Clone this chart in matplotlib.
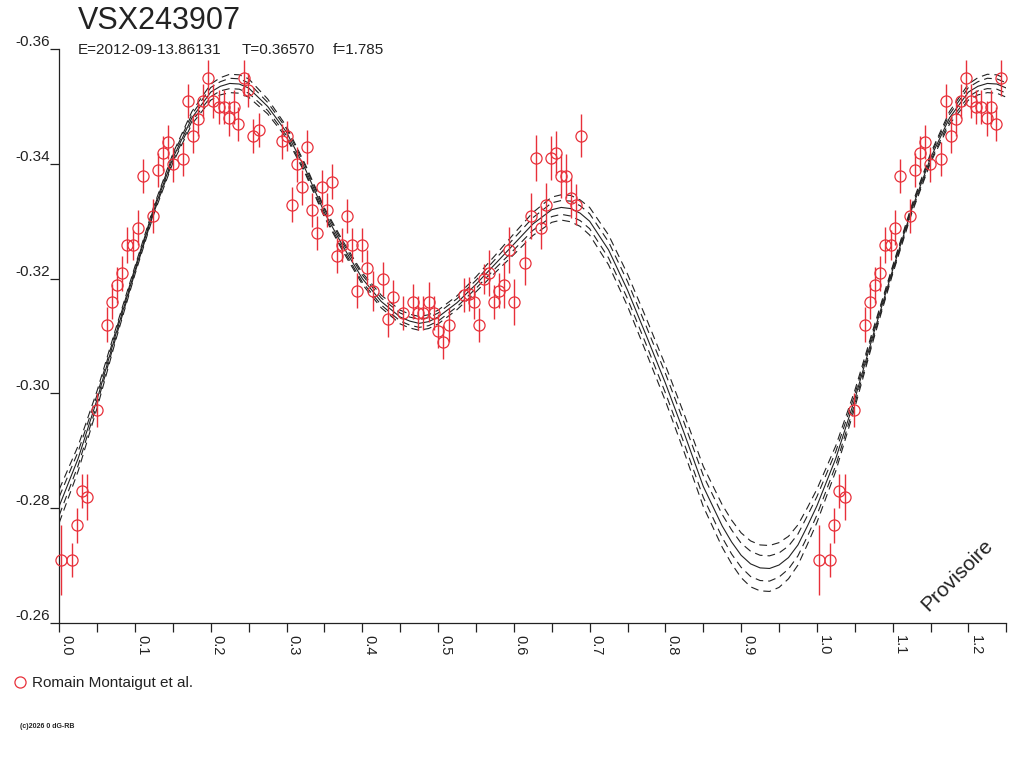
import numpy as np
import matplotlib
matplotlib.use("Agg")
import matplotlib.pyplot as plt
from matplotlib.lines import Line2D

plt.rcParams['font.family'] = ['Liberation Sans', 'DejaVu Sans']

# ---------------- data ----------------
title = "VSX243907"
sub_E = "E=2012-09-13.86131"
sub_T = "T=0.36570"
sub_f = "f=1.785"
observer = "Romain Montaigut et al."
copyright_txt = "(c)2026 0 dG-RB"
watermark = "Provisoire"

obs_phase = [0.0022, 0.0168, 0.0228, 0.0294, 0.0365, 0.0495, 0.0629, 0.0695, 0.0761, 0.0831,
             0.0897, 0.0972, 0.1033, 0.1099, 0.1235, 0.1299, 0.1363, 0.1431, 0.1499, 0.1633,
             0.1702, 0.1770, 0.1834, 0.1897, 0.1962, 0.2028, 0.2104, 0.2170, 0.2239, 0.2303,
             0.2365, 0.2435, 0.2497, 0.2563, 0.2633, 0.2938, 0.3008, 0.3070, 0.3136, 0.3202,
             0.3272, 0.3342, 0.3408, 0.3466, 0.3540, 0.3598, 0.3661, 0.3738, 0.3793, 0.3869,
             0.3935, 0.4001, 0.4067, 0.4142, 0.4274, 0.4340, 0.4406, 0.4538, 0.4674, 0.4740,
             0.4806, 0.4875, 0.4941, 0.5004, 0.5069, 0.5140, 0.5338, 0.5404, 0.5475, 0.5536,
             0.5607, 0.5673, 0.5739, 0.5805, 0.5875, 0.5937, 0.6007, 0.6148, 0.6223, 0.6289,
             0.6355, 0.6421, 0.6487, 0.6553, 0.6619, 0.6685, 0.6755, 0.6817, 0.6887]
obs_mag = [-0.2710, -0.2710, -0.2770, -0.2830, -0.2820, -0.2971, -0.3120, -0.3160, -0.3189, -0.3209,
           -0.3259, -0.3259, -0.3289, -0.3379, -0.3309, -0.3389, -0.3418, -0.3438, -0.3399, -0.3408,
           -0.3509, -0.3449, -0.3478, -0.3509, -0.3549, -0.3509, -0.3499, -0.3499, -0.3479, -0.3499,
           -0.3469, -0.3549, -0.3529, -0.3448, -0.3459, -0.3439, -0.3448, -0.3329, -0.3399, -0.3359,
           -0.3429, -0.3320, -0.3279, -0.3359, -0.3320, -0.3369, -0.3240, -0.3259, -0.3309, -0.3259,
           -0.3179, -0.3259, -0.3219, -0.3179, -0.3199, -0.3129, -0.3168, -0.3140, -0.3160, -0.3140,
           -0.3140, -0.3159, -0.3140, -0.3109, -0.3090, -0.3119, -0.3171, -0.3173, -0.3159, -0.3119,
           -0.3199, -0.3209, -0.3159, -0.3179, -0.3189, -0.3250, -0.3159, -0.3228, -0.3309, -0.3410,
           -0.3289, -0.3329, -0.3410, -0.3419, -0.3379, -0.3379, -0.3340, -0.3329, -0.3449]
obs_err = [0.0061, 0.0030, 0.0030, 0.0030, 0.0040, 0.0030, 0.0030, 0.0030, 0.0031, 0.0030,
           0.0031, 0.0026, 0.0030, 0.0030, 0.0030, 0.0030, 0.0030, 0.0030, 0.0030, 0.0030,
           0.0030, 0.0030, 0.0030, 0.0030, 0.0031, 0.0030, 0.0030, 0.0030, 0.0030, 0.0030,
           0.0030, 0.0031, 0.0030, 0.0030, 0.0030, 0.0030, 0.0026, 0.0030, 0.0030, 0.0030,
           0.0030, 0.0030, 0.0030, 0.0030, 0.0030, 0.0030, 0.0030, 0.0030, 0.0030, 0.0030,
           0.0030, 0.0030, 0.0030, 0.0035, 0.0030, 0.0030, 0.0030, 0.0030, 0.0030, 0.0030,
           0.0030, 0.0035, 0.0030, 0.0030, 0.0030, 0.0030, 0.0030, 0.0030, 0.0030, 0.0030,
           0.0026, 0.0040, 0.0030, 0.0030, 0.0040, 0.0040, 0.0040, 0.0040, 0.0040, 0.0040,
           0.0038, 0.0038, 0.0038, 0.0038, 0.0038, 0.0038, 0.0035, 0.0035, 0.0038]

# fitted light curve (phase 0 .. 1) with its two dashed envelopes
fit_phase = [0.000, 0.025, 0.050, 0.075, 0.100, 0.125, 0.150, 0.175, 0.200, 0.2125,
             0.225, 0.2375, 0.250, 0.275, 0.300, 0.325, 0.350, 0.375, 0.400, 0.425,
             0.450, 0.4625, 0.475, 0.4875, 0.500, 0.525, 0.550, 0.575, 0.600, 0.625,
             0.650, 0.6625, 0.675, 0.6875, 0.700, 0.725, 0.750, 0.775, 0.800, 0.825,
             0.850, 0.875, 0.8875, 0.900, 0.9125, 0.925, 0.9375, 0.950, 0.9625, 0.975,
             0.9875, 1.000]
fit_mag = [-0.2804, -0.2887, -0.2990, -0.3105, -0.3215, -0.3320, -0.3410, -0.3480, -0.3525, -0.3535,
           -0.3540, -0.3539, -0.3532, -0.3500, -0.3455, -0.3390, -0.3315, -0.3255, -0.3200, -0.3160,
           -0.3133, -0.3126, -0.3122, -0.3125, -0.3133, -0.3158, -0.3190, -0.3225, -0.3260, -0.3295,
           -0.3320, -0.3324, -0.3322, -0.3314, -0.3300, -0.3250, -0.3180, -0.3100, -0.3018, -0.2930,
           -0.2838, -0.2769, -0.2741, -0.2718, -0.2703, -0.2696, -0.2695, -0.2701, -0.2714, -0.2736,
           -0.2769, -0.2804]
band_outer = [0.0029, 0.0022, 0.0015, 0.0010, 0.0007, 0.0007, 0.0008, 0.0011, 0.0014, 0.0015,
              0.0016, 0.0016, 0.0016, 0.0013, 0.0010, 0.0008, 0.0008, 0.0009, 0.0010, 0.0011,
              0.0012, 0.0012, 0.0012, 0.0012, 0.0012, 0.0012, 0.0013, 0.0015, 0.0018, 0.0020,
              0.0022, 0.0022, 0.0023, 0.0023, 0.0024, 0.0026, 0.0028, 0.0030, 0.0031, 0.0033,
              0.0035, 0.0037, 0.0038, 0.0039, 0.0040, 0.0040, 0.0040, 0.0039, 0.0037, 0.0035,
              0.0032, 0.0029]
band_inner = [0.0016, 0.0012, 0.0008, 0.0006, 0.0004, 0.0004, 0.0005, 0.0006, 0.0008, 0.0008,
              0.0009, 0.0009, 0.0009, 0.0007, 0.0006, 0.0005, 0.0005, 0.0005, 0.0006, 0.0006,
              0.0007, 0.0007, 0.0007, 0.0007, 0.0007, 0.0007, 0.0007, 0.0008, 0.0010, 0.0011,
              0.0012, 0.0012, 0.0013, 0.0013, 0.0013, 0.0014, 0.0015, 0.0016, 0.0017, 0.0018,
              0.0019, 0.0020, 0.0021, 0.0021, 0.0022, 0.0022, 0.0022, 0.0021, 0.0020, 0.0019,
              0.0018, 0.0016]

x_ticks = [0.0, 0.1, 0.2, 0.3, 0.4, 0.5, 0.6, 0.7, 0.8, 0.9, 1.0, 1.1, 1.2]
x_minor = [0.05, 0.15, 0.25, 0.35, 0.45, 0.55, 0.65, 0.75, 0.85, 0.95, 1.05, 1.15, 1.25]
y_ticks = [-0.36, -0.34, -0.32, -0.30, -0.28, -0.26]

# ---------------- figure ----------------
RED = '#e8303a'
INK = '#222222'
XMAX = 1.249

fig = plt.figure(figsize=(10.24, 7.68), dpi=100)
ax = fig.add_axes([59.3 / 1024, 1 - 623 / 768, (1006.3 - 59.3) / 1024, (623 - 49) / 768])

# curve over phase 0 .. 1.25 (next cycle repeats the start of the curve)
fp = np.array(fit_phase)
fm = np.array(fit_mag)
bo = np.array(band_outer)
bi = np.array(band_inner)
ext = (fp > 0) & (fp <= 0.2501)
cx = np.concatenate([fp, fp[ext] + 1.0])
cm = np.concatenate([fm, fm[ext]])
co = np.concatenate([bo, bo[ext]])
ci = np.concatenate([bi, bi[ext]])

dash = (0, (7, 4.5))
ax.plot(cx, cm, color=INK, lw=0.8)
for off in (co, ci):
    ax.plot(cx, cm - off, color=INK, lw=0.8, linestyle=dash)
    ax.plot(cx, cm + off, color=INK, lw=0.8, linestyle=dash)

# observations (phase 0..1 plus repeated cycle)
ph = np.array(obs_phase)
mg = np.array(obs_mag)
er = np.array(obs_err)
keep = ph + 1.0 <= XMAX
px = np.concatenate([ph, ph[keep] + 1.0])
pm = np.concatenate([mg, mg[keep]])
pe = np.concatenate([er, er[keep]])

ax.vlines(px, pm - pe, pm + pe, colors=RED, lw=1.0, clip_on=False, zorder=3)
ax.plot(px, pm, 'o', ms=8, mfc='none', mec=RED, mew=0.9, clip_on=False, zorder=4)

ax.set_xlim(0, XMAX)
ax.set_ylim(-0.26, -0.36)

for s in ('top', 'right'):
    ax.spines[s].set_visible(False)
for s in ('left', 'bottom'):
    ax.spines[s].set_color(INK)
    ax.spines[s].set_linewidth(0.9)

ax.set_xticks(x_ticks)
ax.set_xticks(x_minor, minor=True)
ax.set_xticklabels([f"{v:.1f}" for v in x_ticks], rotation=-90, fontsize=10.5, color=INK,
                   ha='left', va='top')
ax.tick_params(axis='x', which='both', direction='out', length=6.5, width=0.9, color=INK, pad=2)

ax.set_yticks(y_ticks)
ax.set_yticklabels([f"{v:.2f}" for v in y_ticks], fontsize=11, color=INK)
ax.tick_params(axis='y', direction='out', length=6.5, width=0.9, color=INK, pad=0)
for lbl in ax.get_yticklabels():
    lbl.set_verticalalignment('bottom')

# texts
fig.text(78 / 1024, 1 - 29 / 768, title, fontsize=22, color=INK, va='baseline', ha='left')
fig.text(78 / 1024, 1 - 54 / 768, sub_E, fontsize=11, color=INK, va='baseline', ha='left')
fig.text(242 / 1024, 1 - 54 / 768, sub_T, fontsize=11, color=INK, va='baseline', ha='left')
fig.text(333 / 1024, 1 - 54 / 768, sub_f, fontsize=11, color=INK, va='baseline', ha='left')

fig.text(957 / 1024, 1 - 575 / 768, watermark, fontsize=15, color=INK, rotation=45,
         ha='center', va='center')

handle = Line2D([], [], marker='o', ls='none', ms=8, mfc='none', mec=RED, mew=0.9)
fig.legend([handle], [observer], loc='center left', bbox_to_anchor=(12 / 1024, 1 - 683 / 768),
           frameon=False, fontsize=11, handlelength=1.0, handletextpad=0.3, borderpad=0,
           borderaxespad=0, labelcolor=INK)

fig.text(20 / 1024, 1 - 728 / 768, copyright_txt, fontsize=5, color=INK, fontweight='bold',
         va='baseline', ha='left')

fig.savefig("out.png", dpi=100)
